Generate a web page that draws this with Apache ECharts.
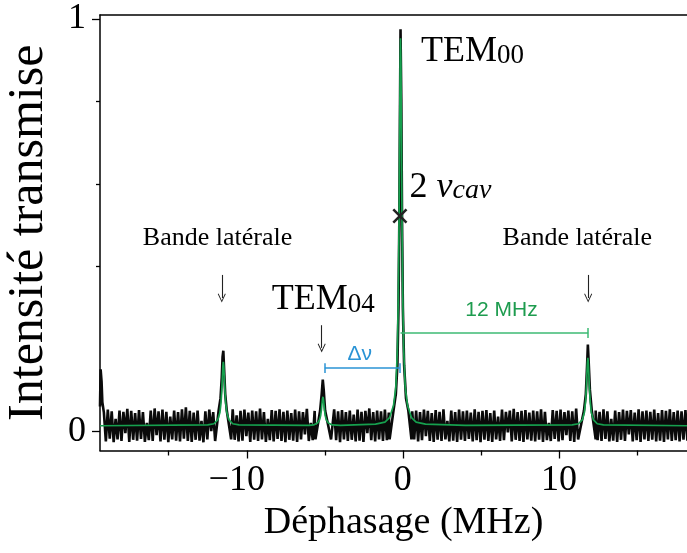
<!DOCTYPE html>
<html>
<head>
<meta charset="utf-8">
<script src="https://cdn.jsdelivr.net/npm/echarts@6/dist/echarts.min.js"></script>
<style>
  html, body { margin: 0; padding: 0; background: #fff; }
  #chart { width: 687px; height: 553px; }
</style>
</head>
<body>
<div id="chart"></div>
<script>
// x range (MHz) and tick values
var xMin = -19.4, xMax = 18.2;
var xMajorTicks = [-10, 0, 10];
var xMinorTicks = [-15, -5, 5, 15];
var yMajorTicks = [0, 1];
var yMinorTicks = [0.4, 0.6, 0.8];

// noise band of the measured trace, read every 0.25 MHz from x = -19.4
var noiseStart = -19.4, noiseStep = 0.25;
var noiseHi = [
  0.05, 0.045, 0.052, 0.048, 0.03, 0.05, 0.047, 0.054, 0.049, 0.044,
  0.051, 0.046, 0.02, 0.05, 0.055, 0.048, 0.052, 0.047, 0.035, 0.05,
  0.046, 0.053, 0.058, 0.049, 0.045, 0.05, 0.025, 0.048, 0.052, 0.046,
  0.05, 0.044, 0.051, 0.047, 0.053, 0.038, 0.049, 0.052, 0.045, 0.05,
  0.048, 0.055, 0.046, 0.03, 0.051, 0.049, 0.053, 0.047, 0.05, 0.044,
  0.052, 0.048, 0.046, 0.054, 0.02, 0.049, 0.051, 0.047, 0.05, 0.045,
  0.053, 0.048, 0.051, 0.046, 0.05, 0.04, 0.052, 0.047, 0.049, 0.055,
  0.046, 0.05, 0.048, 0.052, 0.045, 0.049, 0.03, 0.051, 0.047, 0.053,
  0.048, 0.05, 0.046, 0.052, 0.049, 0.044, 0.051, 0.047, 0.053, 0.025,
  0.05, 0.046, 0.052, 0.048, 0.05, 0.045, 0.053, 0.047, 0.049, 0.051,
  0.044, 0.05, 0.035, 0.052, 0.047, 0.05, 0.054, 0.046, 0.049, 0.051,
  0.045, 0.05, 0.048, 0.053, 0.047, 0.02, 0.051, 0.049, 0.052, 0.046,
  0.05, 0.048, 0.055, 0.047, 0.049, 0.051, 0.044, 0.05, 0.047, 0.053,
  0.048, 0.03, 0.05, 0.046, 0.052, 0.049, 0.051, 0.045, 0.053, 0.048,
  0.05, 0.047, 0.052, 0.044, 0.051, 0.049, 0.053, 0.046, 0.05, 0.048, 0.051
];
var noiseLo = [
  -0.022, -0.025, -0.018, -0.027, -0.02, -0.024, -0.005, -0.026, -0.021, -0.023,
  -0.019, -0.026, -0.022, -0.024, -0.01, -0.025, -0.021, -0.027, -0.02, -0.023,
  -0.025, -0.018, -0.024, -0.026, -0.021, -0.023, -0.027, -0.02, 0.0, -0.024,
  -0.022, -0.026, -0.019, -0.024, -0.021, -0.025, -0.023, -0.012, -0.026, -0.021,
  -0.024, -0.02, -0.026, -0.022, -0.025, -0.019, -0.024, -0.027, -0.021, -0.023,
  -0.026, -0.02, -0.008, -0.024, -0.022, -0.026, -0.021, -0.025, -0.019, -0.024,
  -0.022, -0.027, -0.02, -0.024, -0.021, -0.025, -0.023, -0.026, -0.005, -0.022,
  -0.025, -0.02, -0.024, -0.022, -0.026, -0.019, -0.024, -0.021, -0.027, -0.023,
  -0.02, -0.025, -0.022, -0.012, -0.024, -0.026, -0.021, -0.024, -0.02, -0.025,
  -0.023, -0.026, -0.021, -0.024, -0.019, -0.025, -0.022, -0.027, -0.021, -0.024,
  -0.026, -0.02, -0.024, -0.022, -0.003, -0.025, -0.021, -0.024, -0.026, -0.02,
  -0.023, -0.025, -0.021, -0.026, -0.022, -0.024, -0.019, -0.025, -0.022, -0.01,
  -0.024, -0.026, -0.02, -0.023, -0.025, -0.021, -0.026, -0.022, -0.024, -0.019,
  -0.025, -0.023, -0.026, -0.021, -0.024, -0.008, -0.025, -0.022, -0.026, -0.02,
  -0.024, -0.021, -0.025, -0.023, -0.026, -0.02, -0.024, -0.022, -0.025, -0.021, -0.023
];

// measured peaks (black trace)
var peakEdge = [[-19.4, 0.06], [-19.36, 0.15], [-19.3, 0.12], [-19.25, 0.07], [-19.15, 0.045]];
var peakSideL = [[-12.0, -0.02], [-11.8, 0.05], [-11.68, 0.08], [-11.6, 0.13], [-11.55, 0.18], [-11.5, 0.195], [-11.45, 0.15], [-11.38, 0.09], [-11.28, 0.05], [-11.0, -0.02]];
var peakTem04 = [[-5.6, -0.02], [-5.3, 0.05], [-5.2, 0.09], [-5.13, 0.125], [-5.07, 0.1], [-4.98, 0.05], [-4.6, -0.02]];
var peakTem00 = [[-0.85, -0.02], [-0.6, 0.05], [-0.45, 0.09], [-0.35, 0.16], [-0.28, 0.3], [-0.23, 0.5], [-0.19, 0.75], [-0.15, 0.975], [-0.1, 0.8], [-0.05, 0.5], [0, 0.3], [0.08, 0.16], [0.2, 0.08], [0.35, 0.05], [0.55, -0.02]];
var peakSideR = [[11.35, -0.02], [11.6, 0.05], [11.72, 0.09], [11.8, 0.16], [11.85, 0.21], [11.9, 0.17], [11.98, 0.1], [12.1, 0.05], [12.35, -0.02]];

// Lorentzian fit (green)
var fitCurve = [
  [-19.4, 0.013], [-12.5, 0.015], [-12.1, 0.018], [-11.85, 0.028], [-11.72, 0.045], [-11.65, 0.068],
  [-11.6, 0.098], [-11.56, 0.132], [-11.53, 0.158], [-11.5, 0.168], [-11.47, 0.158], [-11.44, 0.132],
  [-11.4, 0.098], [-11.35, 0.068], [-11.28, 0.045], [-11.15, 0.028], [-10.9, 0.018], [-10.5, 0.015],
  [-6.0, 0.014], [-5.72, 0.015], [-5.47, 0.02], [-5.34, 0.027], [-5.27, 0.037], [-5.22, 0.051],
  [-5.18, 0.067], [-5.15, 0.078], [-5.12, 0.083], [-5.09, 0.078], [-5.06, 0.067], [-5.02, 0.051],
  [-4.97, 0.037], [-4.9, 0.027], [-4.77, 0.02], [-4.52, 0.015], [-4.0, 0.014],
  [-1.75, 0.017], [-1.15, 0.022], [-0.85, 0.033], [-0.6, 0.062], [-0.45, 0.107], [-0.35, 0.2],
  [-0.3, 0.313], [-0.25, 0.483], [-0.2, 0.765], [-0.175, 0.898], [-0.15, 0.953], [-0.125, 0.898],
  [-0.1, 0.765], [-0.05, 0.483], [0, 0.313], [0.05, 0.2], [0.15, 0.107], [0.3, 0.062],
  [0.55, 0.033], [0.85, 0.022], [1.45, 0.017], [4.0, 0.014],
  [10.85, 0.015], [11.25, 0.018], [11.5, 0.028], [11.63, 0.046], [11.7, 0.071], [11.75, 0.103],
  [11.79, 0.14], [11.82, 0.167], [11.85, 0.178], [11.88, 0.167], [11.91, 0.14], [11.95, 0.103],
  [12.0, 0.071], [12.07, 0.046], [12.2, 0.028], [12.45, 0.018], [12.85, 0.015], [18.2, 0.013]
];

// build the black trace: zigzag through the noise band, peaks spliced in
var peaks = [peakEdge, peakSideL, peakTem04, peakTem00, peakSideR];
var trace = [];
for (var i = 0; i < noiseHi.length; i++) {
  var x = noiseStart + i * noiseStep;
  trace.push([x, noiseHi[i]]);
  trace.push([x + noiseStep / 2, noiseLo[i]]);
}
trace = trace.filter(function (p) {
  return !peaks.some(function (pk) { return p[0] >= pk[0][0] && p[0] <= pk[pk.length - 1][0]; });
});
peaks.forEach(function (pk) { trace = trace.concat(pk); });
trace.sort(function (a, b) { return a[0] - b[0]; });

var serif = 'Liberation Serif';
var ink = '#000';
var arrowPath = 'path://M5,0L10,9L9,9.6L5,2.2L1,9.6L0,9Z';

var myChart = echarts.init(document.getElementById('chart'));

var option = {
  animation: false,
  backgroundColor: '#fff',
  grid: { left: 100, right: 0, top: 15, bottom: 102.5, containLabel: false, outerBoundsMode: 'none' },
  xAxis: [{
    type: 'value', min: xMin, max: xMax, position: 'bottom',
    name: 'Déphasage (MHz)', nameLocation: 'middle', nameGap: 54,
    nameTextStyle: { fontFamily: serif, fontSize: 38, color: ink, padding: [0, 0, 0, 20] },
    axisLine: { show: true, onZero: false, lineStyle: { color: ink, width: 1.5 } },
    axisTick: { show: true, customValues: xMajorTicks, length: 8, lineStyle: { color: ink, width: 1.3 } },
    axisLabel: {
      customValues: xMajorTicks, fontFamily: serif, fontSize: 36, color: ink, margin: 12,
      formatter: function (v) { return v < 0 ? '−' + Math.abs(v) + '{g|}' : String(v); },
      rich: { g: { width: 20 } }
    },
    splitLine: { show: false }
  }, {
    type: 'value', min: xMin, max: xMax, position: 'bottom',
    axisLine: { show: false, onZero: false },
    axisTick: { show: true, customValues: xMinorTicks, length: 5, lineStyle: { color: ink, width: 1.3 } },
    axisLabel: { show: false },
    splitLine: { show: false }
  }, {
    type: 'value', min: xMin, max: xMax, position: 'top',
    axisLine: { show: true, onZero: false, lineStyle: { color: ink, width: 1.5 } },
    axisTick: { show: false }, axisLabel: { show: false }, splitLine: { show: false }
  }],
  yAxis: [{
    type: 'value', min: -0.047, max: 1.0097, position: 'left',
    name: 'Intensité transmise', nameLocation: 'middle', nameGap: 46,
    nameTextStyle: { fontFamily: serif, fontSize: 50, color: ink },
    axisLine: { show: true, onZero: false, lineStyle: { color: ink, width: 1.5 } },
    axisTick: { show: true, customValues: yMajorTicks, length: 8, lineStyle: { color: ink, width: 1.3 } },
    axisLabel: { customValues: yMajorTicks, fontFamily: serif, fontSize: 36, color: ink, margin: 14 },
    splitLine: { show: false }
  }, {
    type: 'value', min: -0.047, max: 1.0097, position: 'left',
    axisLine: { show: false, onZero: false },
    axisTick: { show: true, customValues: yMinorTicks, length: 4, lineStyle: { color: ink, width: 1.3 } },
    axisLabel: { show: false },
    splitLine: { show: false }
  }],
  series: [{
    name: 'mesure', type: 'line', data: trace, symbol: 'none', z: 2,
    lineStyle: { color: '#0a0a0a', width: 2.6 }, silent: true
  }, {
    name: 'ajustement', type: 'line', data: fitCurve, symbol: 'none', z: 3,
    lineStyle: { color: '#16a04e', width: 1.7 }, silent: true
  }, {
    name: 'croix', type: 'scatter', data: [[-0.19, 0.522]], z: 5, silent: true,
    symbol: 'path://M0,1.2L1.2,0L10,8.8L8.8,10Z M8.8,0L10,1.2L1.2,10L0,8.8Z', symbolSize: 15,
    itemStyle: { color: '#222', opacity: 1 }
  }, {
    name: 'textes', type: 'scatter', symbolSize: 0, z: 6, silent: true,
    itemStyle: { opacity: 1 },
    label: { show: true, position: 'inside', color: ink, fontFamily: serif, opacity: 1 },
    data: [
      { value: [4.46, 0.927], label: { formatter: '{a|TEM}{s|00}', rich: {
        a: { fontFamily: serif, fontSize: 36, lineHeight: 40, verticalAlign: 'bottom', color: ink },
        s: { fontFamily: serif, fontSize: 27, lineHeight: 24, verticalAlign: 'bottom', color: ink } } } },
      { value: [-5.1, 0.323], label: { formatter: '{a|TEM}{s|04}', rich: {
        a: { fontFamily: serif, fontSize: 36, lineHeight: 40, verticalAlign: 'bottom', color: ink },
        s: { fontFamily: serif, fontSize: 27, lineHeight: 24, verticalAlign: 'bottom', color: ink } } } },
      { value: [3.05, 0.597], label: { formatter: '{a|2 }{v|ν}{s|cav}', rich: {
        a: { fontFamily: serif, fontSize: 36, lineHeight: 40, verticalAlign: 'bottom', color: ink },
        v: { fontFamily: serif, fontStyle: 'italic', fontSize: 36, lineHeight: 40, verticalAlign: 'bottom', color: ink },
        s: { fontFamily: serif, fontStyle: 'italic', fontSize: 28, lineHeight: 24, verticalAlign: 'bottom', color: ink } } } },
      { value: [-11.87, 0.468], label: { formatter: 'Bande latérale', fontSize: 26 } },
      { value: [11.17, 0.468], label: { formatter: 'Bande latérale', fontSize: 26 } },
      { value: [6.32, 0.294], label: { formatter: '12 MHz', fontFamily: 'Liberation Sans', fontSize: 21, color: '#1e9c4f' } },
      { value: [-2.76, 0.187], label: { formatter: 'Δν', fontFamily: 'Liberation Sans', fontSize: 21, color: '#2a93d5' } }
    ],
    markLine: {
      silent: true, symbol: ['none', 'none'], label: { show: false },
      lineStyle: { type: 'solid' },
      data: [
        [{ coord: [-0.15, 0.238], lineStyle: { color: '#3dba73', width: 1.5 } }, { coord: [11.87, 0.238] }],
        [{ coord: [11.87, 0.226], lineStyle: { color: '#3dba73', width: 1.5 } }, { coord: [11.87, 0.25] }],
        [{ coord: [-5.0, 0.153], lineStyle: { color: '#2a93d5', width: 1.5 } }, { coord: [-0.2, 0.153] }],
        [{ coord: [-5.0, 0.141], lineStyle: { color: '#2a93d5', width: 1.5 } }, { coord: [-5.0, 0.165] }],
        [{ coord: [-0.2, 0.141], lineStyle: { color: '#2a93d5', width: 1.5 } }, { coord: [-0.2, 0.165] }]
      ]
    }
  }, {
    name: 'fleches', type: 'line', data: [], silent: true,
    markLine: {
      silent: true, symbol: ['none', arrowPath], symbolSize: [8, 9], label: { show: false },
      lineStyle: { color: '#222', width: 1.1, type: 'solid' },
      data: [
        [{ coord: [-11.6, 0.379] }, { coord: [-11.6, 0.323] }],
        [{ coord: [11.87, 0.379] }, { coord: [11.87, 0.323] }],
        [{ coord: [-5.2, 0.257] }, { coord: [-5.2, 0.202] }]
      ]
    }
  }]
};

myChart.setOption(option);
</script>
</body>
</html>
